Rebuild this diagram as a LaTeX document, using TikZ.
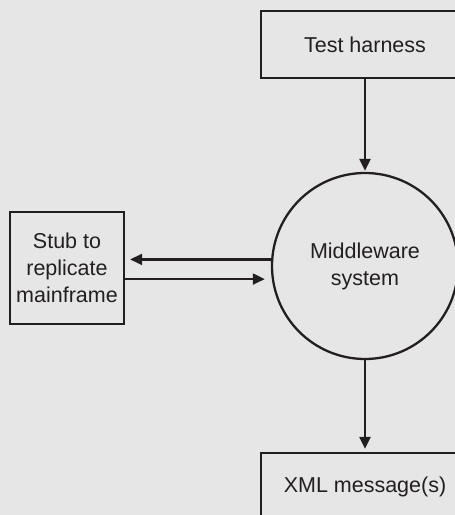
\documentclass[tikz,border=0pt]{standalone}
\usepackage{fontspec}
\setmainfont{Liberation Sans}
\usetikzlibrary{arrows.meta,calc}
\definecolor{bg}{HTML}{E6E6E6}
\definecolor{ink}{HTML}{231F20}
\begin{document}
\begin{tikzpicture}[x=1pt,y=1pt,
  every node/.style={font=\fontsize{21.5}{27}\selectfont, text=ink, align=center},
  boxnode/.style={draw=ink, line width=2.3pt, fill=bg, inner sep=0pt},
  circnode/.style={draw=ink, circle, line width=2.3pt, fill=bg, inner sep=0pt, minimum size=186pt},
  flow/.style={draw=ink, line width=2.2pt, -{Triangle[length=12pt,width=11pt]}}]
\useasboundingbox (0,0) rectangle (455,515);
\fill[bg] (0,0) rectangle (455,515);
\clip (0,0) rectangle (455,515);
\node[boxnode, minimum width=208pt, minimum height=67pt] (top) at (365,470.5) {Test harness};
\node[circnode] (mw) at (365,249) {Middleware\\system};
\node[boxnode, minimum width=114pt, minimum height=112pt] (stub) at (67,247) {Stub to\\replicate\\mainframe};
\node[boxnode, minimum width=208pt, minimum height=68pt] (xml) at (365,28) {XML message(s)};
\draw[flow, shorten >=1pt] (top.south) -- (mw.north);
\draw[flow, shorten >=5pt] (mw.176.9) -- (stub.east |- mw.176.9);
\draw[flow, shorten >=7pt] (stub.east |- mw.188.7) -- (mw.188.7);
\draw[flow, shorten >=3pt] (mw.south) -- (xml.north);
\end{tikzpicture}
\end{document}
